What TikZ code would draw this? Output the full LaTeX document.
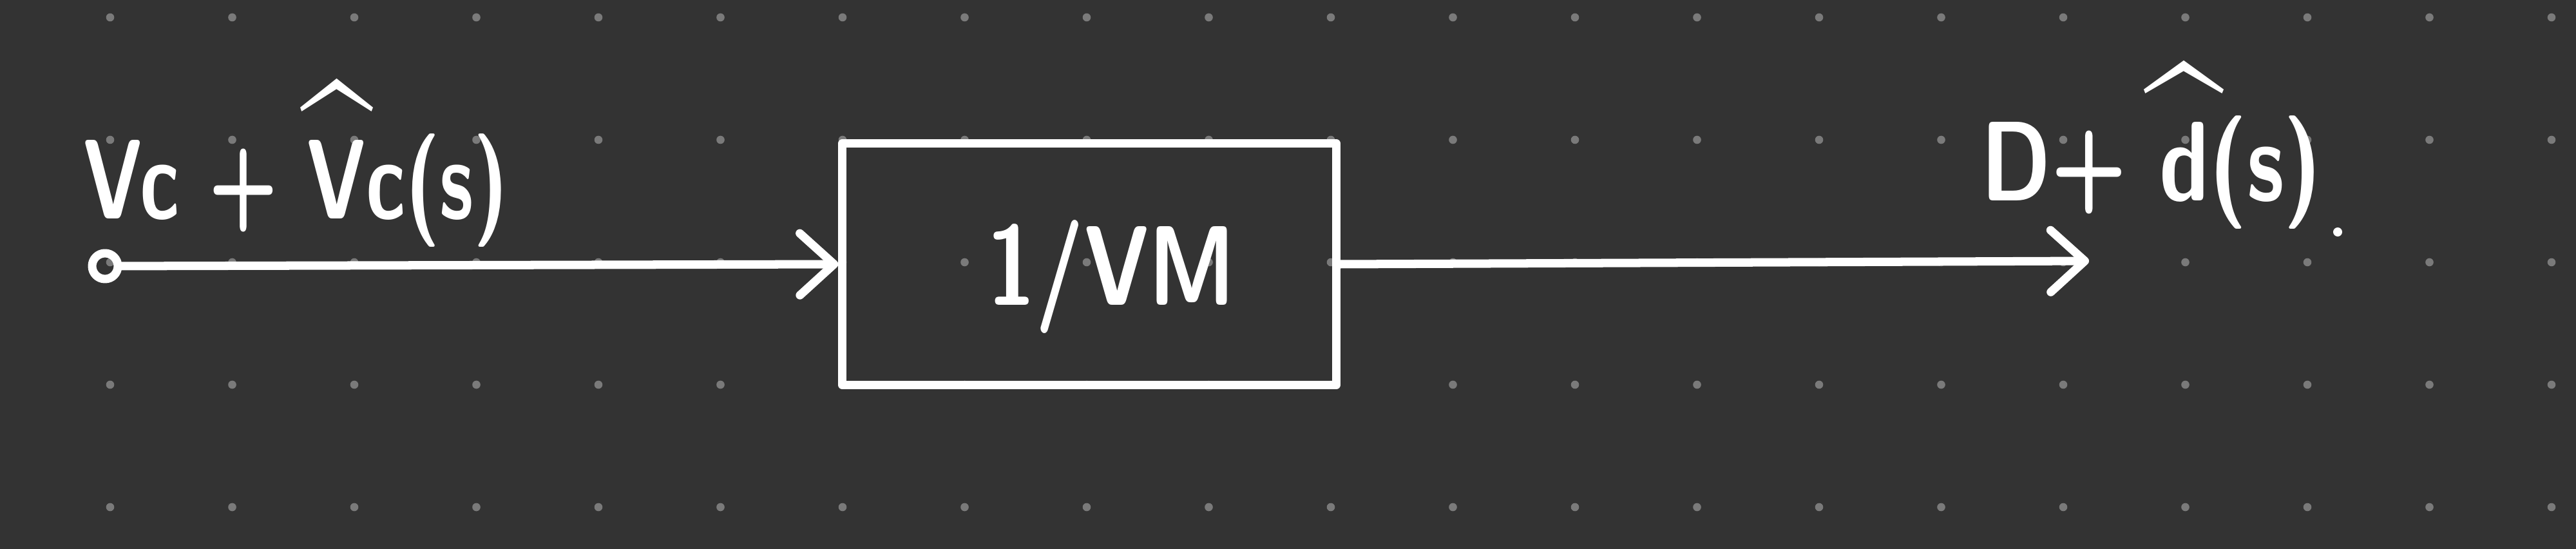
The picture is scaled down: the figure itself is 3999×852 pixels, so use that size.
\documentclass[tikz,border=0pt]{standalone}
\usetikzlibrary{arrows.meta,positioning}
\definecolor{boardBg}{RGB}{51,51,51}
\definecolor{gridDot}{RGB}{122,122,122}
\definecolor{chalk}{RGB}{255,255,255}
\newcommand{\hw}[2][0.78]{\scalebox{#1}[1]{#2}}
\newcommand{\hatop}[1]{\ooalign{#1\cr\hidewidth\raisebox{0.05em}{\scalebox{1.6}{\textasciicircum}}\hidewidth\cr}}

\begin{document}
\begin{tikzpicture}[x=0.01cm, y=-0.01cm,
    >={Straight Barb[length=5.3mm, width=9.6mm, round]},
    ink/.style={chalk, line width=3.7pt, line cap=round, line join=round},
    hand/.style={text=chalk, font=\sffamily\bfseries\fontsize{50}{56}\selectfont, inner sep=0pt}]
    % --- board and dot grid ---
    \fill[boardBg] (0,0) rectangle (3999,852);
    \useasboundingbox (0,0) rectangle (3999,852);
    \foreach \i in {0,...,20}
      \foreach \j in {0,...,4}
        \fill[gridDot] (171+189.5*\i, 27+190*\j) circle (0.63mm);
    % --- block ---
    \node[ink, draw, minimum width=7.66cm, minimum height=3.75cm] (gain) at (1691,410) {};
    \node[hand] (gaintxt) at (1725,430) {\hw{1/VM}};
    % --- input ---
    \node[ink, draw, circle, minimum size=0.4cm, inner sep=0pt] (src) at (163,413) {};
    \draw[ink, ->] (src) -- (gain.west);
    \node[hand, anchor=base west] (vin) at (129,340) {\hw[0.71]{Vc + \hatop{V}c(s)}};
    % --- output ---
    \coordinate (dst) at (3243,405);
    \draw[ink, ->] (gain.east) -- (dst);
    \node[hand, anchor=base west] (dout) at (3075,312) {\hw{D+ \hatop{d}(s)}};
    \fill[chalk] (3629,360) circle (0.7mm);
\end{tikzpicture}
\end{document}
